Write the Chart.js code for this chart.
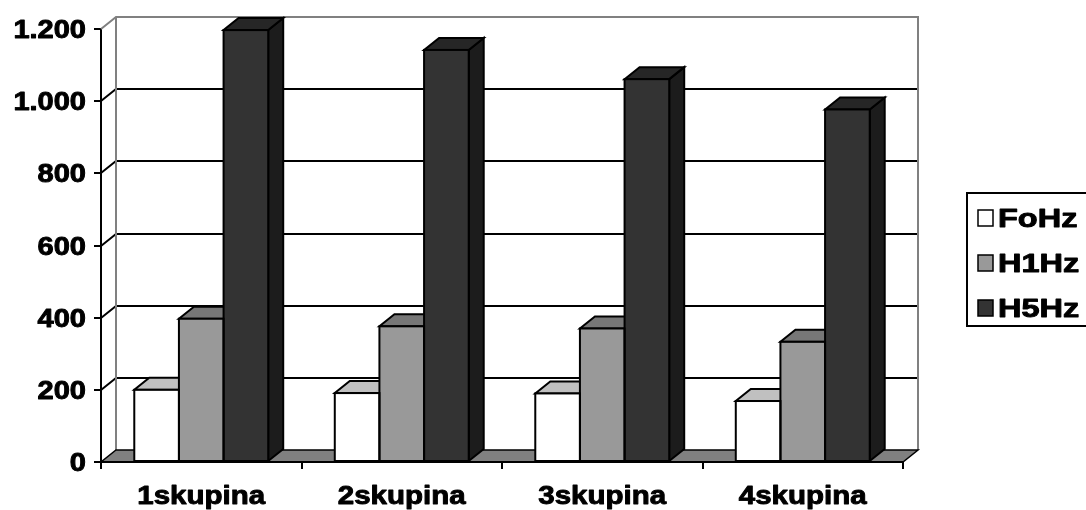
<!DOCTYPE html>
<html>
<head>
<meta charset="utf-8">
<script src="https://cdn.jsdelivr.net/npm/chart.js@4/dist/chart.umd.min.js"></script>
<style>
  html, body { margin: 0; padding: 0; background: #ffffff; }
  #wrap { width: 1086px; height: 510px; overflow: hidden; }
  canvas { display: block; }
</style>
</head>
<body>
<div id="wrap"><canvas id="c" width="1086" height="510"></canvas></div>
<script>
// Categories, series and axis labels
const categories = ['1skupina', '2skupina', '3skupina', '4skupina'];
const seriesNames = ['FoHz', 'H1Hz', 'H5Hz'];
const foHz = [200, 191, 190, 169];
const h1Hz = [397, 376, 370, 333];
const h5Hz = [1197, 1142, 1061, 977];
const yTickValues = [0, 200, 400, 600, 800, 1000, 1200];
const yTickLabels = ['0', '200', '400', '600', '800', '1.000', '1.200'];

// Face colours per series: front, top, side
const faceColors = [
  { front: '#ffffff', top: '#c0c0c0', side: '#a0a0a0' },
  { front: '#999999', top: '#777777', side: '#666666' },
  { front: '#333333', top: '#262626', side: '#1c1c1c' }
];

// Depth offset of the 3D box (right and up)
const DX = 15, DY = -12;
const FONT = 'bold 25px "Liberation Sans", Arial, sans-serif';

function stretchedText(ctx, text, x, y, align, sx) {
  ctx.save();
  ctx.translate(x, y);
  ctx.scale(sx, 1);
  ctx.textAlign = align;
  ctx.textBaseline = 'alphabetic';
  ctx.lineWidth = 0.9;
  ctx.lineJoin = 'round';
  ctx.strokeStyle = ctx.fillStyle;
  ctx.fillText(text, 0, 0);
  ctx.strokeText(text, 0, 0);
  ctx.restore();
}

function poly(ctx, pts, fill) {
  ctx.beginPath();
  ctx.moveTo(pts[0][0], pts[0][1]);
  for (let i = 1; i < pts.length; i++) ctx.lineTo(pts[i][0], pts[i][1]);
  ctx.closePath();
  ctx.fillStyle = fill;
  ctx.fill();
  ctx.stroke();
}

const box3d = {
  id: 'box3d',
  beforeDatasetsDraw(chart) {
    const { ctx, chartArea: { left, right, top, bottom }, scales: { y } } = chart;
    ctx.save();
    // back wall
    ctx.fillStyle = '#ffffff';
    ctx.fillRect(left + DX, top + DY, right - left, bottom - top);
    // gridlines: side diagonal + back wall line
    ctx.strokeStyle = '#000000';
    ctx.lineWidth = 2;
    yTickValues.forEach(v => {
      if (v === 0 || v === y.max) return;
      const py = Math.round(y.getPixelForValue(v));
      ctx.beginPath();
      ctx.moveTo(left, py);
      ctx.lineTo(left + DX, py + DY);
      ctx.lineTo(right + DX, py + DY);
      ctx.stroke();
    });
    // wall outline
    ctx.strokeStyle = '#808080';
    ctx.lineWidth = 2;
    ctx.beginPath();
    ctx.moveTo(left, top);
    ctx.lineTo(left + DX, top + DY);
    ctx.lineTo(right + DX, top + DY);
    ctx.lineTo(right + DX, bottom + DY);
    ctx.moveTo(left + DX, top + DY);
    ctx.lineTo(left + DX, bottom + DY);
    ctx.stroke();
    // floor
    ctx.strokeStyle = '#000000';
    ctx.lineWidth = 1.5;
    ctx.lineJoin = 'miter';
    poly(ctx, [[left, bottom], [right, bottom], [right + DX, bottom + DY], [left + DX, bottom + DY]], '#808080');
    // top and side faces of every bar
    ctx.lineWidth = 2;
    chart.data.datasets.forEach((ds, d) => {
      const meta = chart.getDatasetMeta(d);
      const col = faceColors[d];
      meta.data.forEach(bar => {
        const p = bar.getProps(['x', 'y', 'base', 'width'], true);
        const l = p.x - p.width / 2, r = p.x + p.width / 2, t = p.y, b = p.base;
        poly(ctx, [[r, t], [r + DX, t + DY], [r + DX, b + DY], [r, b]], col.side);
        poly(ctx, [[l, t], [r, t], [r + DX, t + DY], [l + DX, t + DY]], col.top);
      });
    });
    ctx.restore();
  },
  afterDatasetsDraw(chart) {
    const { ctx } = chart;
    ctx.save();
    ctx.strokeStyle = '#000000';
    ctx.lineWidth = 2;
    chart.data.datasets.forEach((ds, d) => {
      chart.getDatasetMeta(d).data.forEach(bar => {
        const p = bar.getProps(['x', 'y', 'base', 'width'], true);
        ctx.strokeRect(p.x - p.width / 2, p.y, p.width, p.base - p.y);
      });
    });
    // x axis line on top of floor edge
    const { left, right, bottom } = chart.chartArea;
    ctx.beginPath();
    ctx.moveTo(left, bottom);
    ctx.lineTo(right, bottom);
    ctx.stroke();
    ctx.restore();
  },
  afterDraw(chart) {
    const { ctx, scales: { x, y } } = chart;
    ctx.save();
    ctx.fillStyle = '#000000';
    ctx.font = FONT;
    // y tick labels
    yTickValues.forEach((v, i) => {
      stretchedText(ctx, yTickLabels[i], 86, y.getPixelForValue(v) + 9, 'right', 1.16);
    });
    // category labels
    categories.forEach((c, i) => {
      stretchedText(ctx, c, x.getPixelForValue(i), 504, 'center', 1.18);
    });
    // legend
    const lx = 967, ly = 193, lb = 326;
    ctx.strokeStyle = '#000000';
    ctx.lineWidth = 2;
    ctx.fillStyle = '#ffffff';
    ctx.fillRect(lx, ly, 140, lb - ly);
    ctx.strokeRect(lx, ly, 140, lb - ly);
    chart.data.datasets.forEach((ds, d) => {
      const base = 227 + d * 45;
      ctx.fillStyle = faceColors[d].front;
      ctx.strokeStyle = '#000000';
      ctx.lineWidth = 1.5;
      ctx.fillRect(978, base - 17, 15, 16);
      ctx.strokeRect(978, base - 17, 15, 16);
      ctx.fillStyle = '#000000';
      stretchedText(ctx, ds.label, 998, base, 'left', 1.3);
    });
    ctx.restore();
  }
};

new Chart(document.getElementById('c'), {
  type: 'bar',
  data: {
    labels: categories,
    datasets: [
      { label: seriesNames[0], data: foHz, backgroundColor: faceColors[0].front },
      { label: seriesNames[1], data: h1Hz, backgroundColor: faceColors[1].front },
      { label: seriesNames[2], data: h5Hz, backgroundColor: faceColors[2].front }
    ]
  },
  options: {
    responsive: false,
    animation: false,
    events: [],
    layout: { padding: { left: 0, top: 29, right: 183, bottom: 0 } },
    datasets: { bar: { categoryPercentage: 0.668, barPercentage: 1.0, borderWidth: 0 } },
    plugins: { legend: { display: false }, tooltip: { enabled: false }, title: { display: false } },
    scales: {
      x: {
        ticks: { display: false },
        grid: { offset: true, drawOnChartArea: false, drawTicks: true, tickLength: 7, color: '#000000', lineWidth: 2 },
        border: { display: true, color: '#000000', width: 2 },
        afterFit(scale) { scale.height = 48; }
      },
      y: {
        min: 0,
        max: 1200,
        ticks: { display: false, stepSize: 200 },
        grid: { drawOnChartArea: false, drawTicks: true, tickLength: 7, color: '#000000', lineWidth: 2 },
        border: { display: true, color: '#000000', width: 2 },
        afterFit(scale) { scale.width = 101; }
      }
    }
  },
  plugins: [box3d]
});
</script>
</body>
</html>
